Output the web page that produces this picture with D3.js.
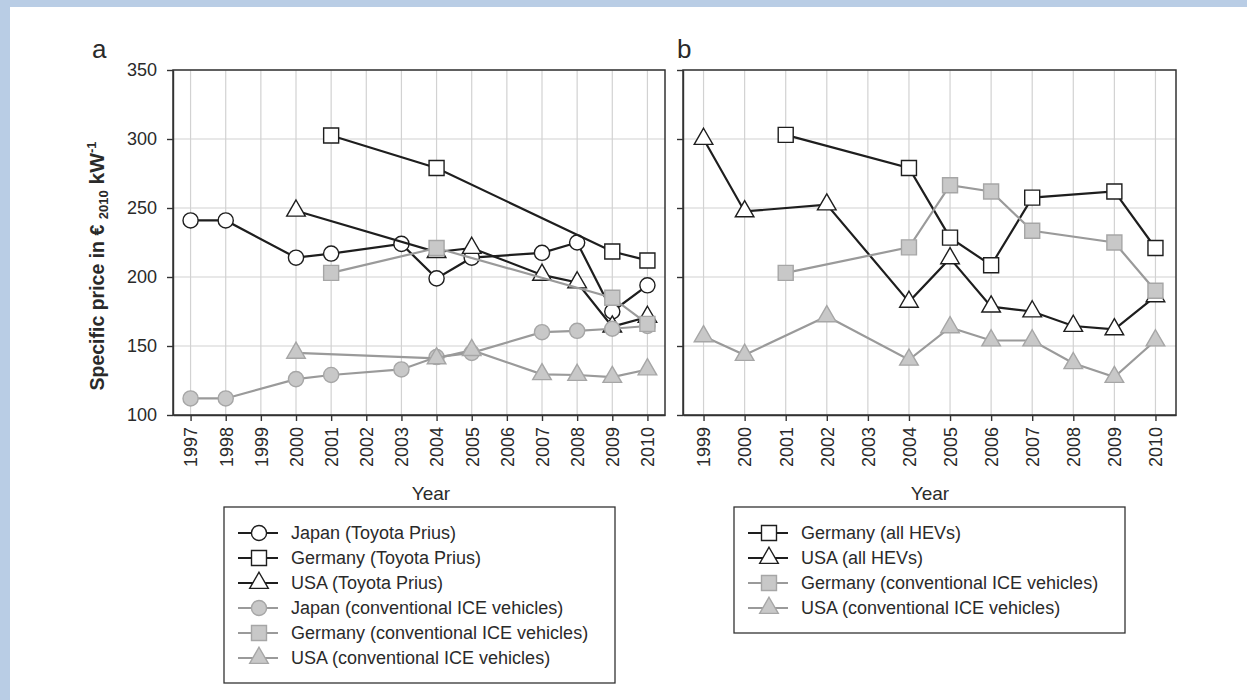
<!DOCTYPE html>
<html>
<head>
<meta charset="utf-8">
<style>
  body { margin: 0; background: #fff; }
  svg text { font-family: "Liberation Sans", Arial, sans-serif; fill: #2a2a2a; }
  .grid line { stroke: #d2d2d2; stroke-width: 1.2px; }
  .axis path, .axis line { stroke: #333; stroke-width: 1.4px; }
  .axis text { font-size: 18px; fill: #2a2a2a; }
  .frame { fill: none; stroke: #333; stroke-width: 1.5px; }
  .legend-box { fill: #fff; stroke: #333; stroke-width: 1.3px; }
  .legend text { font-size: 18px; }
</style>
</head>
<body>
<svg id="chart" width="1247" height="700"></svg>
<script src="https://d3js.org/d3.v7.min.js"></script>
<script>
// x categories and y ticks
var yearsA = [1997, 1998, 1999, 2000, 2001, 2002, 2003, 2004, 2005, 2006, 2007, 2008, 2009, 2010];
var yearsB = [1999, 2000, 2001, 2002, 2003, 2004, 2005, 2006, 2007, 2008, 2009, 2010];
var priceTicks = [100, 150, 200, 250, 300, 350];

// panel a : [year, price in EUR2010 per kW]
var japanPrius = [[1997, 241], [1998, 241], [2000, 214], [2001, 217], [2003, 224], [2004, 199],
                  [2005, 214], [2007, 217.5], [2008, 225], [2009, 175], [2010, 194]];
var germanyPrius = [[2001, 302.5], [2004, 279], [2009, 218.5], [2010, 212]];
var usaPrius = [[2000, 248], [2004, 218], [2005, 221], [2007, 201.5], [2008, 196], [2009, 164], [2010, 171]];
var japanIce = [[1997, 112], [1998, 112], [2000, 126], [2001, 129], [2003, 133], [2004, 142],
                [2005, 145], [2007, 160], [2008, 161], [2009, 162.5], [2010, 164.5]];
var germanyIce = [[2001, 203], [2004, 221], [2009, 185], [2010, 166]];
var usaIce = [[2000, 145], [2004, 141], [2005, 147], [2007, 129.5], [2008, 129], [2009, 127.5], [2010, 133]];

// panel b
var germanyHev = [[2001, 303], [2004, 279], [2005, 228.5], [2006, 208.5], [2007, 257.5], [2009, 262], [2010, 221]];
var usaHev = [[1999, 300], [2000, 247.5], [2002, 252.5], [2004, 182], [2005, 213.5], [2006, 178.5],
              [2007, 175], [2008, 164.5], [2009, 162], [2010, 186]];
var germanyIceB = [[2001, 203], [2004, 221.5], [2005, 266.5], [2006, 262], [2007, 233.5], [2009, 225], [2010, 190]];
var usaIceB = [[1999, 157], [2000, 143.5], [2002, 171.5], [2004, 140], [2005, 163.5], [2006, 154],
               [2007, 154], [2008, 137.5], [2009, 127.5], [2010, 154]];

var namesA = ["Japan (Toyota Prius)", "Germany (Toyota Prius)", "USA (Toyota Prius)",
              "Japan (conventional ICE vehicles)", "Germany (conventional ICE vehicles)", "USA (conventional ICE vehicles)"];
var namesB = ["Germany (all HEVs)", "USA (all HEVs)",
              "Germany (conventional ICE vehicles)", "USA (conventional ICE vehicles)"];

var tone = {
  dark: { line: "#1e1e1e", fill: "#fff", stroke: "#1e1e1e" },
  grey: { line: "#9a9a9a", fill: "#c8c8c8", stroke: "#a6a6a6" }
};
var shape = {
  circle: { type: d3.symbolCircle, size: 180 },
  square: { type: d3.symbolSquare, size: 225 },
  triangle: { type: d3.symbolTriangle, size: 150 }
};

var seriesA = [
  { data: japanPrius, name: namesA[0], tone: "dark", shape: "circle" },
  { data: germanyPrius, name: namesA[1], tone: "dark", shape: "square" },
  { data: usaPrius, name: namesA[2], tone: "dark", shape: "triangle" },
  { data: japanIce, name: namesA[3], tone: "grey", shape: "circle" },
  { data: germanyIce, name: namesA[4], tone: "grey", shape: "square" },
  { data: usaIce, name: namesA[5], tone: "grey", shape: "triangle" }
];
var seriesB = [
  { data: germanyHev, name: namesB[0], tone: "dark", shape: "square" },
  { data: usaHev, name: namesB[1], tone: "dark", shape: "triangle" },
  { data: germanyIceB, name: namesB[2], tone: "grey", shape: "square" },
  { data: usaIceB, name: namesB[3], tone: "grey", shape: "triangle" }
];

var svg = d3.select("#chart");
svg.append("rect").attr("width", 1247).attr("height", 700).attr("fill", "#b9cde5");
svg.append("rect").attr("x", 10).attr("y", 7).attr("width", 1237).attr("height", 693).attr("fill", "#fff");

var plotTop = 70, plotBottom = 415;
var y = d3.scaleLinear().domain([100, 350]).range([plotBottom, plotTop]);

function marker(sel, s) {
  var t = tone[s.tone], sh = shape[s.shape];
  return sel.attr("d", d3.symbol().type(sh.type).size(sh.size))
    .attr("fill", t.fill)
    .attr("stroke", t.stroke)
    .attr("stroke-width", 1.4);
}

function drawPanel(cfg) {
  var years = cfg.years;
  var x = d3.scaleLinear()
    .domain([years[0] - 0.5, years[years.length - 1] + 0.5])
    .range([cfg.left, cfg.right]);
  var g = svg.append("g");

  var grid = g.append("g").attr("class", "grid");
  grid.selectAll("line.v").data(years).enter().append("line")
    .attr("class", "v")
    .attr("x1", function(d) { return x(d); }).attr("x2", function(d) { return x(d); })
    .attr("y1", plotTop).attr("y2", plotBottom);
  grid.selectAll("line.h").data(priceTicks).enter().append("line")
    .attr("class", "h")
    .attr("x1", cfg.left).attr("x2", cfg.right)
    .attr("y1", function(d) { return y(d); }).attr("y2", function(d) { return y(d); });

  var xAxis = g.append("g")
    .attr("class", "axis")
    .attr("transform", "translate(0," + plotBottom + ")")
    .call(d3.axisBottom(x).tickValues(years).tickFormat(d3.format("d")).tickSize(6).tickSizeOuter(0));
  xAxis.selectAll("text")
    .attr("transform", "rotate(-90)")
    .attr("text-anchor", "end")
    .attr("x", -12)
    .attr("y", 0)
    .attr("dy", "0.35em");

  var yAxis = d3.axisLeft(y).tickValues(priceTicks).tickSize(6).tickSizeOuter(0).tickPadding(10);
  if (!cfg.yLabels) yAxis.tickFormat("");
  g.append("g")
    .attr("class", "axis")
    .attr("transform", "translate(" + cfg.left + ",0)")
    .call(yAxis);

  g.append("rect").attr("class", "frame")
    .attr("x", cfg.left).attr("y", plotTop)
    .attr("width", cfg.right - cfg.left).attr("height", plotBottom - plotTop);

  var line = d3.line()
    .x(function(d) { return x(d[0]); })
    .y(function(d) { return y(d[1]); });

  cfg.series.forEach(function(s) {
    var sg = g.append("g");
    sg.append("path")
      .attr("d", line(s.data))
      .attr("fill", "none")
      .attr("stroke", tone[s.tone].line)
      .attr("stroke-width", 2.2);
    sg.selectAll("path.pt").data(s.data).enter().append("path")
      .attr("class", "pt")
      .attr("transform", function(d) { return "translate(" + x(d[0]) + "," + y(d[1]) + ")"; })
      .call(marker, s);
  });

  g.append("text")
    .attr("x", cfg.letterX).attr("y", 58)
    .attr("font-size", 26)
    .text(cfg.letter);

  g.append("text")
    .attr("x", cfg.yearX).attr("y", 500)
    .attr("text-anchor", "middle")
    .attr("font-size", 19)
    .text("Year");

  // legend
  var lg = g.append("g").attr("class", "legend");
  var box = cfg.legend;
  lg.append("rect").attr("class", "legend-box")
    .attr("x", box.x).attr("y", box.y).attr("width", box.w).attr("height", box.h);
  var row = lg.selectAll("g.row").data(cfg.series).enter().append("g")
    .attr("class", "row")
    .attr("transform", function(d, i) { return "translate(" + box.x + "," + (box.y + 26 + i * 25) + ")"; });
  row.append("line")
    .attr("x1", 14).attr("x2", 54)
    .attr("stroke", function(d) { return tone[d.tone].line; })
    .attr("stroke-width", 2.2);
  row.append("path")
    .attr("transform", "translate(35,0)")
    .each(function(d) { marker(d3.select(this), d); });
  row.append("text")
    .attr("x", 67).attr("dy", "0.35em")
    .text(function(d) { return d.name; });
}

drawPanel({
  years: yearsA, left: 173, right: 665, series: seriesA, yLabels: true,
  letter: "a", letterX: 92, yearX: 431,
  legend: { x: 224, y: 507, w: 391, h: 176 }
});
drawPanel({
  years: yearsB, left: 683, right: 1176, series: seriesB, yLabels: false,
  letter: "b", letterX: 677, yearX: 930,
  legend: { x: 734, y: 507, w: 391, h: 126 }
});

// y axis title
var yt = svg.append("text")
  .attr("transform", "translate(104,266) rotate(-90)")
  .attr("text-anchor", "middle")
  .attr("font-weight", "bold")
  .attr("font-size", 19.5);
yt.append("tspan").text("Specific price in € ");
yt.append("tspan").attr("font-size", 13).attr("dy", 4).text("2010");
yt.append("tspan").attr("dy", -4).attr("font-size", 21).text(" kW");
yt.append("tspan").attr("font-size", 13).attr("dy", -8).text("-1");
</script>
</body>
</html>
